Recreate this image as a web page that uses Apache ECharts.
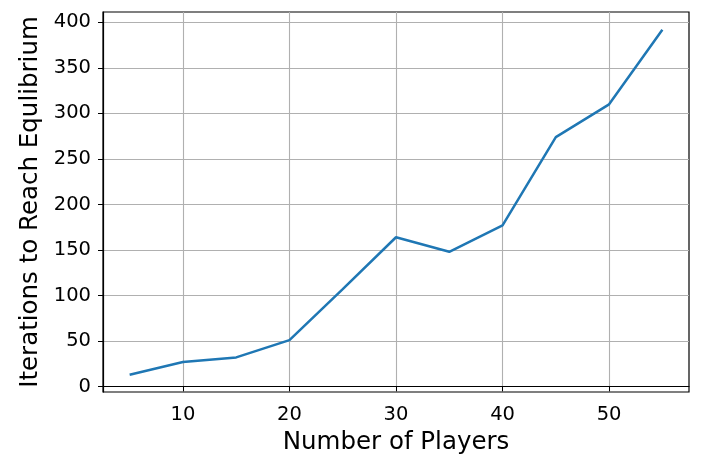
<!DOCTYPE html>
<html>
<head>
<meta charset="utf-8">
<script src="https://cdn.jsdelivr.net/npm/echarts@6/dist/echarts.min.js"></script>
<style>
html,body{margin:0;padding:0;background:#fff;}
#c{width:702px;height:461px;}
</style>
</head>
<body>
<div id="c"></div>
<script>
const players = [5, 10, 15, 20, 25, 30, 35, 40, 45, 50, 55];
const iterations = [13, 27, 32, 51, 107, 164, 148, 177, 274, 310, 392];
const xTicks = [10, 20, 30, 40, 50];
const yTicks = [0, 50, 100, 150, 200, 250, 300, 350, 400];

const chart = echarts.init(document.getElementById('c'), null, {renderer: 'canvas'});
const font = 'DejaVu Sans';
chart.setOption({
  animation: false,
  backgroundColor: '#fff',
  grid: {left: 103, right: 13, top: 12, bottom: 69, show: true, borderColor: '#000', borderWidth: 1.2, containLabel: false},
  xAxis: {
    type: 'value', min: 2.5, max: 57.5,
    name: 'Number of Players', nameLocation: 'middle', nameGap: 38,
    nameTextStyle: {fontFamily: font, fontSize: 24.5, color: '#000'},
    axisLine: {show: true, lineStyle: {color: '#000', width: 1.2}},
    axisTick: {show: true, length: 5, lineStyle: {color: '#000', width: 1}, customValues: xTicks},
    axisLabel: {fontFamily: font, fontSize: 19.5, color: '#000', margin: 13, customValues: xTicks},
    splitLine: {show: true, lineStyle: {color: '#b0b0b0', width: 1.1}, customValues: xTicks}
  },
  yAxis: {
    type: 'value', min: -6, max: 411.4,
    name: 'Iterations to Reach Equlibrium', nameLocation: 'middle', nameGap: 55,
    nameTextStyle: {fontFamily: font, fontSize: 24.5, color: '#000'},
    axisLine: {show: true, lineStyle: {color: '#000', width: 1.2}},
    axisTick: {show: true, length: 5, lineStyle: {color: '#000', width: 1}, customValues: yTicks},
    axisLabel: {fontFamily: font, fontSize: 19.5, color: '#000', margin: 12, customValues: yTicks},
    splitLine: {show: true, lineStyle: {color: '#b0b0b0', width: 1.1}, customValues: yTicks}
  },
  series: [{
    type: 'line',
    data: players.map((p, i) => [p, iterations[i]]),
    showSymbol: false,
    lineStyle: {color: '#1f77b4', width: 2.5},
    itemStyle: {color: '#1f77b4'}
  }]
});
</script>
</body>
</html>
